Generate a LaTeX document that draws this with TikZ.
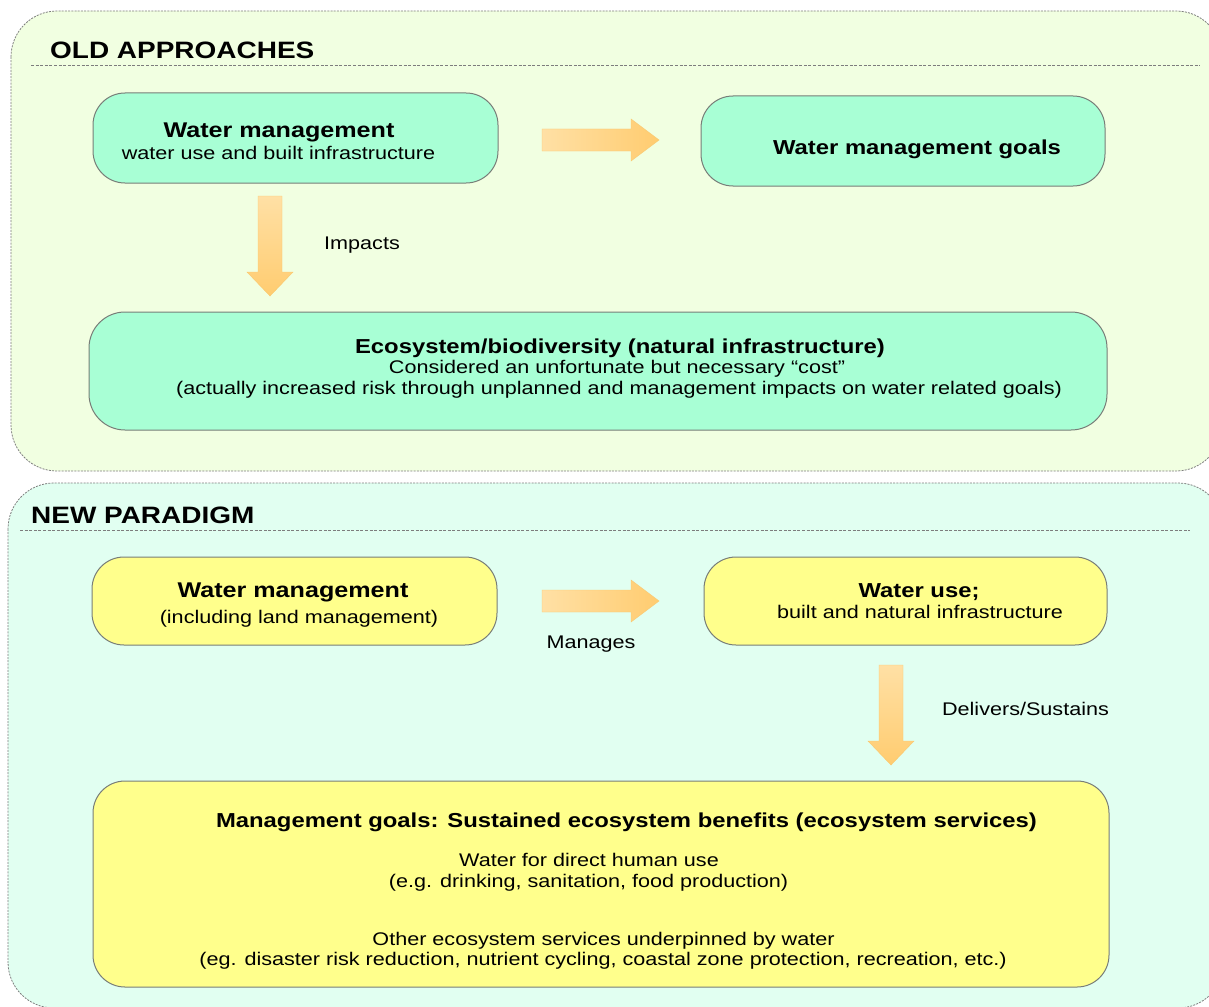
\documentclass[tikz,border=0pt]{standalone}
\usepackage{fontspec}
\setmainfont{Liberation Sans}[FakeStretch=1.18]
\usetikzlibrary{calc}

\definecolor{oldbg}{RGB}{241,255,225}
\definecolor{newbg}{RGB}{225,255,241}
\definecolor{mint}{RGB}{168,255,213}
\definecolor{lemon}{RGB}{255,255,140}
\definecolor{edgegray}{RGB}{120,125,120}
\definecolor{dashgray}{RGB}{125,125,125}
\definecolor{arrowlight}{RGB}{255,224,165}
\definecolor{arrowdark}{RGB}{255,204,112}
\definecolor{arrowedge}{RGB}{250,200,110}

% block arrow pointing right: start coordinate, tip coordinate
\newcommand\rightblock[2]{%
  \path[left color=arrowlight, right color=arrowdark, draw=arrowedge, line width=0.4pt]
    ($(#1)+(0,-11)$) -- ($(#2)+(-28,-11)$) -- ($(#2)+(-28,-21)$) -- (#2)
    -- ($(#2)+(-28,21)$) -- ($(#2)+(-28,11)$) -- ($(#1)+(0,11)$) -- cycle;}
% block arrow pointing down: start coordinate, tip coordinate
\newcommand\downblock[2]{%
  \path[top color=arrowlight, bottom color=arrowdark, draw=arrowedge, line width=0.4pt]
    ($(#1)+(-12,0)$) -- ($(#2)+(-12,-24)$) -- ($(#2)+(-23,-24)$) -- (#2)
    -- ($(#2)+(23,-24)$) -- ($(#2)+(12,-24)$) -- ($(#1)+(12,0)$) -- cycle;}

\begin{document}
\begin{tikzpicture}[x=1pt,y=-1pt,
  panel/.style={draw=dashgray, dash pattern=on 2pt off 1.2pt, line width=0.8pt, rounded corners=46pt},
  rule/.style={draw=dashgray, dash pattern=on 3pt off 1.6pt, line width=0.8pt},
  box/.style={draw=edgegray, line width=1pt, rounded corners=32pt},
  heading/.style={anchor=base west, inner sep=0pt, font=\fontsize{23.7}{28}\selectfont\bfseries},
  boxtitle/.style={anchor=base, inner sep=0pt, font=\fontsize{20.2}{24}\selectfont\bfseries},
  bigtitle/.style={anchor=base, inner sep=0pt, font=\fontsize{21.3}{25}\selectfont\bfseries},
  boxtext/.style={anchor=base, inner sep=0pt, font=\fontsize{18.3}{22}\selectfont},
]
\useasboundingbox (0,0) rectangle (1209,1006);
\clip (0,0) rectangle (1209,1006);

% ---------- old approaches ----------
\path[panel, fill=oldbg] (11,11) rectangle (1222,471);
\node[heading] (oldhead) at (50,59) {OLD APPROACHES};
\draw[rule] (31,65) -- (1200,65);

\path[box, fill=mint] (93,93) rectangle (498,183);
\coordinate (wmold) at (295.5,138);
\node[bigtitle] (wmoldt) at (279,138) {Water management};
\node[boxtext] (wmolds) at (278.5,159) {water use and built infrastructure};

\path[box, fill=mint] (701,96) rectangle (1105,186);
\coordinate (goalsold) at (903,141);
\node[boxtitle] (goalsoldt) at (917,154.5) {Water management goals};

\path[box, fill=mint, rounded corners=36pt] (89,312) rectangle (1107,430);
\coordinate (eco) at (598,371);
\node[boxtitle] (ecot) at (620,353.5) {Ecosystem/biodiversity (natural infrastructure)};
\node[boxtext] (ecos1) at (617,373) {Considered an unfortunate but necessary “cost”};
\node[boxtext] (ecos2) at (619,394) {(actually increased risk through unplanned and management impacts on water related goals)};

\coordinate (a1s) at (542,140);
\coordinate (a1e) at (659,140);
\rightblock{a1s}{a1e}

\coordinate (a2s) at (270,196);
\coordinate (a2e) at (270,296);
\downblock{a2s}{a2e}
\node[boxtext] (impacts) at (362,249) {Impacts};

% ---------- new paradigm ----------
\path[panel, fill=newbg] (8,483) rectangle (1224,1008);
\node[heading] (newhead) at (31,523) {NEW PARADIGM};
\draw[rule] (20,530) -- (1190,530);

\path[box, fill=lemon] (92,557) rectangle (497,645);
\coordinate (wmnew) at (294.5,601);
\node[bigtitle] (wmnewt) at (293,597.5) {Water management};
\node[boxtext] (wmnews) at (299,623) {(including land management)};

\path[box, fill=lemon] (704,557) rectangle (1107,645);
\coordinate (use) at (905.5,601);
\node[boxtitle] (uset) at (919,597.5) {Water use;};
\node[boxtext] (uses) at (920,618) {built and natural infrastructure};

\path[box, fill=lemon, rounded corners=32pt] (93,781) rectangle (1109,987);
\coordinate (goalsnew) at (601,884);
\node[boxtitle] (goalsnewt) at (626.5,827.5) {Management goals: Sustained ecosystem benefits (ecosystem services)};
\node[boxtext] (gn1) at (589,866) {Water for direct human use};
\node[boxtext] (gn2) at (588.5,887) {(e.g. drinking, sanitation, food production)};
\node[boxtext] (gn3) at (603.5,945) {Other ecosystem services underpinned by water};
\node[boxtext] (gn4) at (603,965) {(eg. disaster risk reduction, nutrient cycling, coastal zone protection, recreation, etc.)};

\coordinate (a3s) at (542,601);
\coordinate (a3e) at (659,601);
\rightblock{a3s}{a3e}
\node[boxtext] (manages) at (591,648) {Manages};

\coordinate (a4s) at (891,665);
\coordinate (a4e) at (891,765);
\downblock{a4s}{a4e}
\node[boxtext] (delivers) at (1025.5,715) {Delivers/Sustains};
\end{tikzpicture}
\end{document}
